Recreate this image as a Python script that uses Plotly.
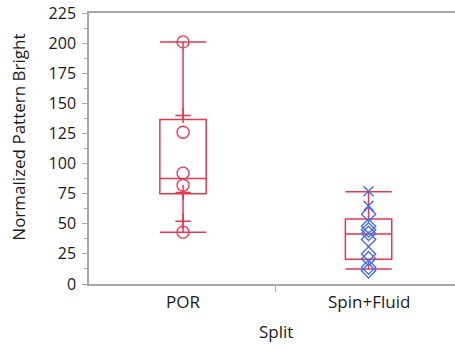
import plotly.graph_objects as go

categories = ["POR", "Spin+Fluid"]

# POR group points
por_circle = [201, 126, 92, 82, 43]
por_plus = [140, 76, 52]
# Spin+Fluid group points
sf_x = [77, 65]
sf_diamond = [58, 48, 45, 42, 37, 25, 21, 14, 11]

# box statistics per category
box_q1 = [75, 20.5]
box_median = [87.5, 41.5]
box_q3 = [136.5, 54]
box_low = [43, 12.5]
box_high = [201, 76.5]

RED = "#e63650"
BLUE = "#4a6fe0"
FONT = "Open Sans"

fig = go.Figure()

fig.add_trace(go.Box(
    x=[0, 1], q1=box_q1, median=box_median, q3=box_q3,
    lowerfence=box_low, upperfence=box_high,
    width=0.25, whiskerwidth=1, boxpoints=False,
    line=dict(color=RED, width=1.5), fillcolor="rgba(0,0,0,0)",
    showlegend=False, hoverinfo="skip",
))

fig.add_trace(go.Scatter(
    x=[0] * len(por_circle), y=por_circle, mode="markers",
    marker=dict(symbol="circle-open", size=12, color=RED, line=dict(width=1.3, color=RED)),
    showlegend=False,
))
fig.add_trace(go.Scatter(
    x=[0] * len(por_plus), y=por_plus, mode="markers",
    marker=dict(symbol="cross-thin", size=11, color=RED, line=dict(width=1.5, color=RED)),
    showlegend=False,
))
fig.add_trace(go.Scatter(
    x=[1] * len(sf_x), y=sf_x, mode="markers",
    marker=dict(symbol="x-thin", size=10, color=BLUE, line=dict(width=1.5, color=BLUE)),
    showlegend=False,
))
fig.add_trace(go.Scatter(
    x=[1] * len(sf_diamond), y=sf_diamond, mode="markers",
    marker=dict(symbol="diamond-open", size=11, color=BLUE, line=dict(width=1.4, color=BLUE)),
    showlegend=False,
))

axis_col = "#a8a8a8"
fig.update_layout(
    width=455, height=349,
    margin=dict(l=89, r=0, t=13, b=65),
    paper_bgcolor="white", plot_bgcolor="white",
    font=dict(family=FONT, size=16, color="#1a1a1a"),
    xaxis=dict(
        range=[-0.507, 1.466], tickvals=[0.5], ticktext=[""],
        ticks="outside", ticklen=6, tickcolor=axis_col,
        showline=True, linecolor=axis_col, linewidth=1.5, mirror=True,
        showgrid=False, zeroline=False,
    ),
    yaxis=dict(
        range=[0, 225], tickvals=list(range(0, 226, 25)),
        ticks="outside", ticklen=5, tickcolor=axis_col,
        minor=dict(dtick=12.5, ticks="outside", ticklen=3, tickcolor=axis_col, showgrid=False),
        showline=True, linecolor=axis_col, linewidth=1.5,
        showgrid=False, zeroline=False, ticklabelstandoff=3,
        tickfont=dict(size=16),
    ),
)

for i, c in enumerate(categories):
    fig.add_annotation(x=i, y=0, xref="x", yref="paper", text=c, showarrow=False,
                       yanchor="top", yshift=-4, font=dict(size=17))
fig.add_annotation(x=0.5, y=0, xref="x", yref="paper", text="Split", showarrow=False,
                   yanchor="top", yshift=-34, font=dict(size=17))
fig.add_annotation(x=0, y=0.54, xref="paper", yref="paper", text="Normalized Pattern Bright",
                   showarrow=False, textangle=-90, xanchor="center", xshift=-70,
                   font=dict(size=17))

fig.write_html("out.html")
